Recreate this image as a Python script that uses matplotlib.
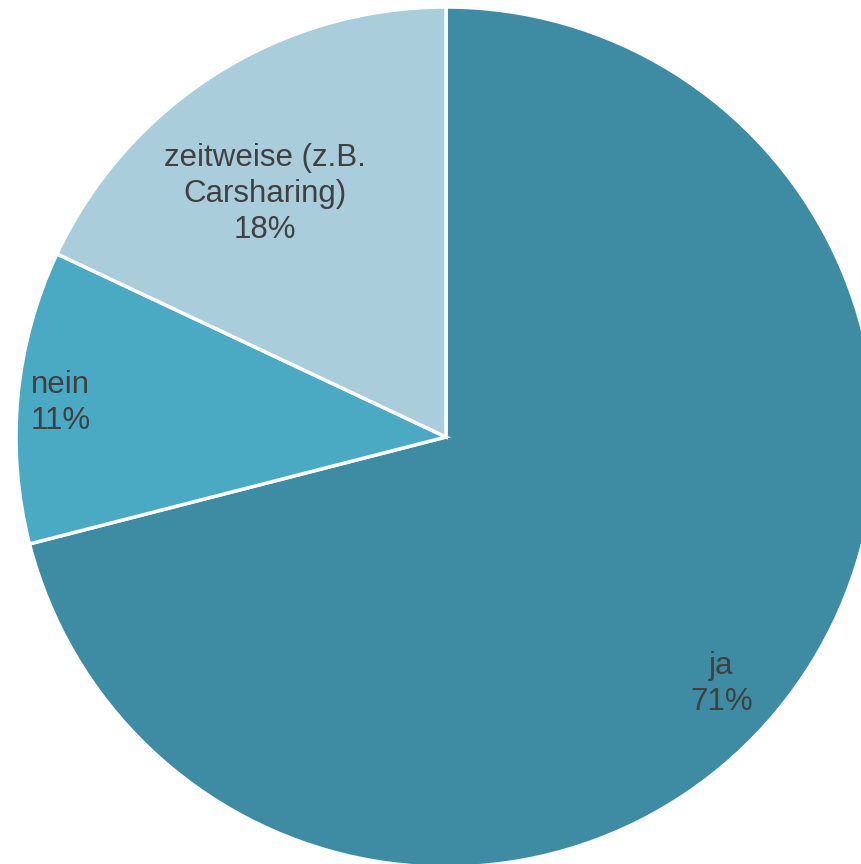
import numpy as np
import matplotlib
matplotlib.use("Agg")
import matplotlib.pyplot as plt

# Survey answers: car available?
labels = ["ja", "nein", "zeitweise (z.B.\nCarsharing)"]
values = [71, 11, 18]
colors = ["#3D8CA3", "#4AAAC4", "#A9CDDB"]
# label placement: fraction of radius and angular nudge (degrees)
label_dist = [0.86, 0.90, 0.705]
label_shift = [-4.1, 0.3, 4.2]

plt.rcParams["font.family"] = ["Liberation Sans", "DejaVu Sans"]

W, H = 862, 864
fig = plt.figure(figsize=(W / 100, H / 100), dpi=100)
ax = fig.add_axes([0, 0, 1, 1])

cx, cy, r = 446, H - 437, 430
wedges, _ = ax.pie(values, colors=colors, startangle=90, counterclock=False,
                   center=(cx, cy), radius=r, frame=True,
                   wedgeprops=dict(edgecolor="white", linewidth=2.5))
ax.set_xlim(0, W)
ax.set_ylim(0, H)
ax.axis("off")

for w, lab, v, d, s in zip(wedges, labels, values, label_dist, label_shift):
    ang = np.deg2rad((w.theta1 + w.theta2) / 2 + s)
    x = cx + d * r * np.cos(ang)
    y = cy + d * r * np.sin(ang)
    ax.text(x, y, f"{lab}\n{v}%", ha="center", va="center",
            fontsize=22.5, color="#404040", linespacing=1.26)

fig.savefig("out.png", dpi=100)
